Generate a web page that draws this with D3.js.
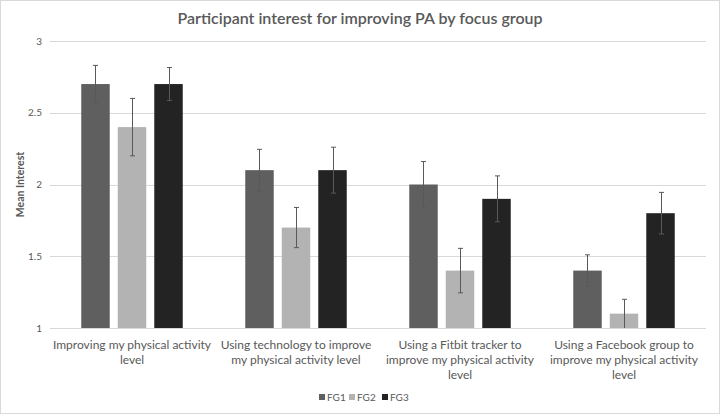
<!DOCTYPE html>
<html>
<head>
<meta charset="utf-8">
<script src="https://cdn.jsdelivr.net/npm/d3@7"></script>
<style>
  html, body { margin: 0; padding: 0; background: #fff; }
  svg { display: block; font-family: Lato, "Open Sans", sans-serif; }
</style>
</head>
<body>
<svg id="chart" width="720" height="414"></svg>
<script>
// ---- data ----
const categories = [
  "Improving my physical activity level",
  "Using technology to improve my physical activity level",
  "Using a Fitbit tracker to improve my physical activity level",
  "Using a Facebook group to improve my physical activity level"
];
const categoryLines = [
  ["Improving my physical activity", "level"],
  ["Using technology to improve", "my physical activity level"],
  ["Using a Fitbit tracker to", "improve my physical activity", "level"],
  ["Using a Facebook group to", "improve my physical activity", "level"]
];
const seriesNames = ["FG1", "FG2", "FG3"];
const fg1 = [2.7, 2.1, 2.0, 1.4];
const fg2 = [2.4, 1.7, 1.4, 1.1];
const fg3 = [2.7, 2.1, 1.9, 1.8];
const fg1Err = [0.13, 0.145, 0.16, 0.11];
const fg2Err = [0.2, 0.14, 0.155, 0.1];
const fg3Err = [0.115, 0.16, 0.16, 0.145];
const yTicks = [1, 1.5, 2, 2.5, 3];
const titleText = "Participant interest for improving PA by focus group";
const yTitle = "Mean Interest";

const seriesValues = [fg1, fg2, fg3];
const seriesErrors = [fg1Err, fg2Err, fg3Err];
const colors = ["#5f5f5f", "#b3b3b3", "#232323"];

// ---- layout ----
const W = 720, H = 414;
const plot = { left: 50, right: 706, top: 41, bottom: 328 };

const svg = d3.select("#chart");

// border
svg.append("rect")
  .attr("x", 0.5).attr("y", 0.5)
  .attr("width", W - 1).attr("height", H - 1)
  .attr("fill", "#fff").attr("stroke", "#d9d9d9");

const x = d3.scaleBand().domain(categories).range([plot.left, plot.right]).padding(0);
const xs = d3.scaleBand().domain(seriesNames).range([0, x.bandwidth()])
  .paddingInner(0.22).paddingOuter(0.856);
const y = d3.scaleLinear().domain([1, 3]).range([plot.bottom, plot.top]);

// gridlines
svg.append("g").selectAll("line").data(yTicks).join("line")
  .attr("x1", plot.left).attr("x2", plot.right)
  .attr("y1", d => Math.round(y(d)) + 0.5).attr("y2", d => Math.round(y(d)) + 0.5)
  .attr("stroke", "#d9d9d9").attr("stroke-width", 1);

// y axis tick labels
const yAxis = d3.axisLeft(y).tickValues(yTicks).tickSize(0).tickPadding(0)
  .tickFormat(d3.format("~g"));
const yg = svg.append("g").attr("transform", `translate(${plot.left - 8},0)`).call(yAxis);
yg.select(".domain").remove();
yg.selectAll("text").attr("fill", "#595959").attr("font-size", 10)
  .attr("font-family", "Lato, sans-serif");

// y title
svg.append("text")
  .attr("transform", `translate(24,${(plot.top + plot.bottom) / 2}) rotate(-90)`)
  .attr("text-anchor", "middle")
  .attr("fill", "#595959").attr("font-size", 10.5).attr("font-weight", 700)
  .text(yTitle);

// bars
const barData = [];
categories.forEach((c, i) => {
  seriesNames.forEach((s, j) => {
    barData.push({ c, s, j, v: seriesValues[j][i], e: seriesErrors[j][i] });
  });
});

const gBars = svg.append("g");
gBars.selectAll("rect").data(barData).join("rect")
  .attr("x", d => x(d.c) + xs(d.s))
  .attr("width", xs.bandwidth())
  .attr("y", d => y(d.v))
  .attr("height", d => y(1) - y(d.v))
  .attr("fill", d => colors[d.j]);

// error bars
const gErr = svg.append("g").attr("stroke", "#595959").attr("stroke-width", 1);
const cap = 2.5;
barData.forEach(d => {
  const cx = Math.round(x(d.c) + xs(d.s) + xs.bandwidth() / 2) + 0.5;
  const y1 = y(d.v + d.e), y2 = y(Math.max(1, d.v - d.e));
  gErr.append("line").attr("x1", cx).attr("x2", cx).attr("y1", y1).attr("y2", y2);
  gErr.append("line").attr("x1", cx - cap).attr("x2", cx + cap).attr("y1", y1).attr("y2", y1);
  if (d.v - d.e > 1) {
    gErr.append("line").attr("x1", cx - cap).attr("x2", cx + cap).attr("y1", y2).attr("y2", y2);
  }
});

// x labels
const gx = svg.append("g");
categories.forEach((c, i) => {
  const t = gx.append("text")
    .attr("x", x(c) + x.bandwidth() / 2)
    .attr("y", 349)
    .attr("text-anchor", "middle")
    .attr("fill", "#595959").attr("font-size", 12);
  categoryLines[i].forEach((line, k) => {
    t.append("tspan").attr("x", x(c) + x.bandwidth() / 2).attr("dy", k === 0 ? 0 : 15).text(line);
  });
});

// title
svg.append("text")
  .attr("x", W / 2).attr("y", 24)
  .attr("text-anchor", "middle")
  .attr("fill", "#595959").attr("font-size", 16).attr("font-weight", 600)
  .text(titleText);

// legend
const legendStarts = [319, 349, 382];
const lg = svg.append("g");
seriesNames.forEach((s, j) => {
  lg.append("rect").attr("x", legendStarts[j]).attr("y", 394).attr("width", 6).attr("height", 6)
    .attr("fill", colors[j]);
  lg.append("text").attr("x", legendStarts[j] + 8).attr("y", 401)
    .attr("fill", "#595959").attr("font-size", 10).text(s);
});
</script>
</body>
</html>
